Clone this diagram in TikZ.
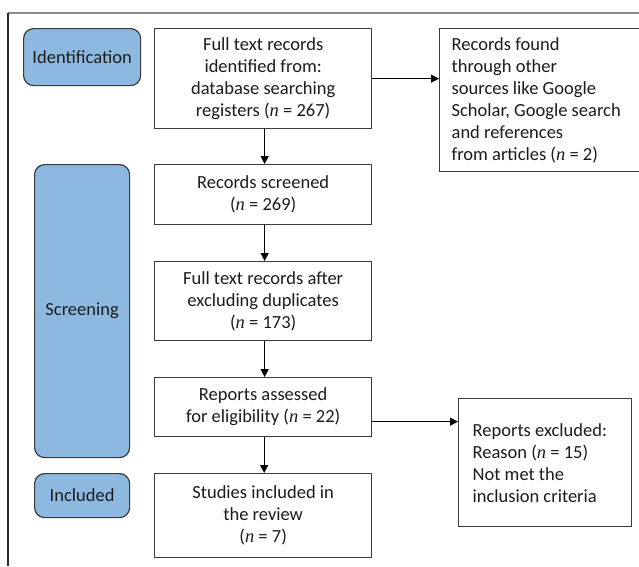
\documentclass[tikz,border=0pt]{standalone}
\usepackage{fontspec}
\setmainfont{Carlito}
\newfontfamily\nserif{Liberation Serif}
\usetikzlibrary{arrows.meta}
\definecolor{stageblue}{HTML}{8DB9E0}
\definecolor{txt}{HTML}{1C1C1C}
\definecolor{edge}{HTML}{3A3A3A}
\newcommand{\nn}{{\nserif\itshape n}}
\tikzset{
  flowbox/.style={draw=edge, line width=1.3pt, fill=white, anchor=north west, inner sep=0pt, text=txt, align=center},
  stagebox/.style={draw=edge, line width=1.2pt, fill=stageblue, rounded corners=10pt, anchor=north west, inner sep=0pt, text=txt, align=center},
  flowarrow/.style={draw=black, line width=1.2pt, -{Triangle[length=8pt,width=8pt]}},
  every node/.style={font=\fontsize{18.5}{22}\selectfont}
}
\begin{document}
\begin{tikzpicture}[x=1pt,y=-1pt]
\useasboundingbox (0,0) rectangle (639,566);
% frame
\draw[color=gray!90, line width=1.5pt] (8,13) -- (639,13);
\draw[color=black!85, line width=1.2pt] (8,13) -- (8,566);
% stage labels
\node[stagebox, minimum width=117pt, minimum height=57pt] (ident) at (23,28) {Identification};
\node[stagebox, minimum width=95pt, minimum height=293pt] (screen) at (34,164) {Screening};
\node[stagebox, minimum width=95pt, minimum height=44pt] (incl) at (34,473) {Included};
% main boxes
\node[flowbox, minimum width=217pt, minimum height=100pt] (b1) at (154,28) {Full text records\\identified from:\\database searching\\registers (\nn{} = 267)};
\node[flowbox, minimum width=217pt, minimum height=60pt] (b2) at (154,164) {Records screened\\(\nn{} = 269)};
\node[flowbox, minimum width=217pt, minimum height=79pt] (b3) at (154,261) {Full text records after\\excluding duplicates\\(\nn{} = 173)};
\node[flowbox, minimum width=217pt, minimum height=59pt] (b4) at (154,377) {Reports assessed\\for eligibility (\nn{} = 22)};
\node[flowbox, minimum width=217pt, minimum height=84pt] (b5) at (154,473) {Studies included in\\the review\\(\nn{} = 7)};
% side boxes
\node[flowbox, minimum width=197pt, minimum height=143pt, align=flush left, text width=183pt, inner xsep=12pt, inner ysep=0pt] (other) at (439,28) {Records found\\through other\\sources like Google\\Scholar, Google search\\and references\\from articles (\nn{} = 2)};
\node[flowbox, minimum width=159pt, minimum height=128pt, align=flush left, text width=145pt, inner xsep=14pt, inner ysep=0pt] (excl) at (458,398) {Reports excluded:\\Reason (\nn{} = 15)\\Not met the\\inclusion criteria};
% arrows
\draw[flowarrow] ([xshift=1.5pt]b1.south) -- ([xshift=1.5pt]b2.north);
\draw[flowarrow] ([xshift=1.5pt]b2.south) -- ([xshift=1.5pt]b3.north);
\draw[flowarrow] ([xshift=1.5pt]b3.south) -- ([xshift=1.5pt]b4.north);
\draw[flowarrow] ([xshift=1pt]b4.south) -- ([xshift=1pt]b5.north);
\draw[flowarrow] (b1.east) -- (b1.east -| other.west);
\coordinate (exitb4) at ([yshift=-14.5pt]b4.east);
\draw[flowarrow] (exitb4) -- (exitb4 -| excl.west);
\end{tikzpicture}
\end{document}
